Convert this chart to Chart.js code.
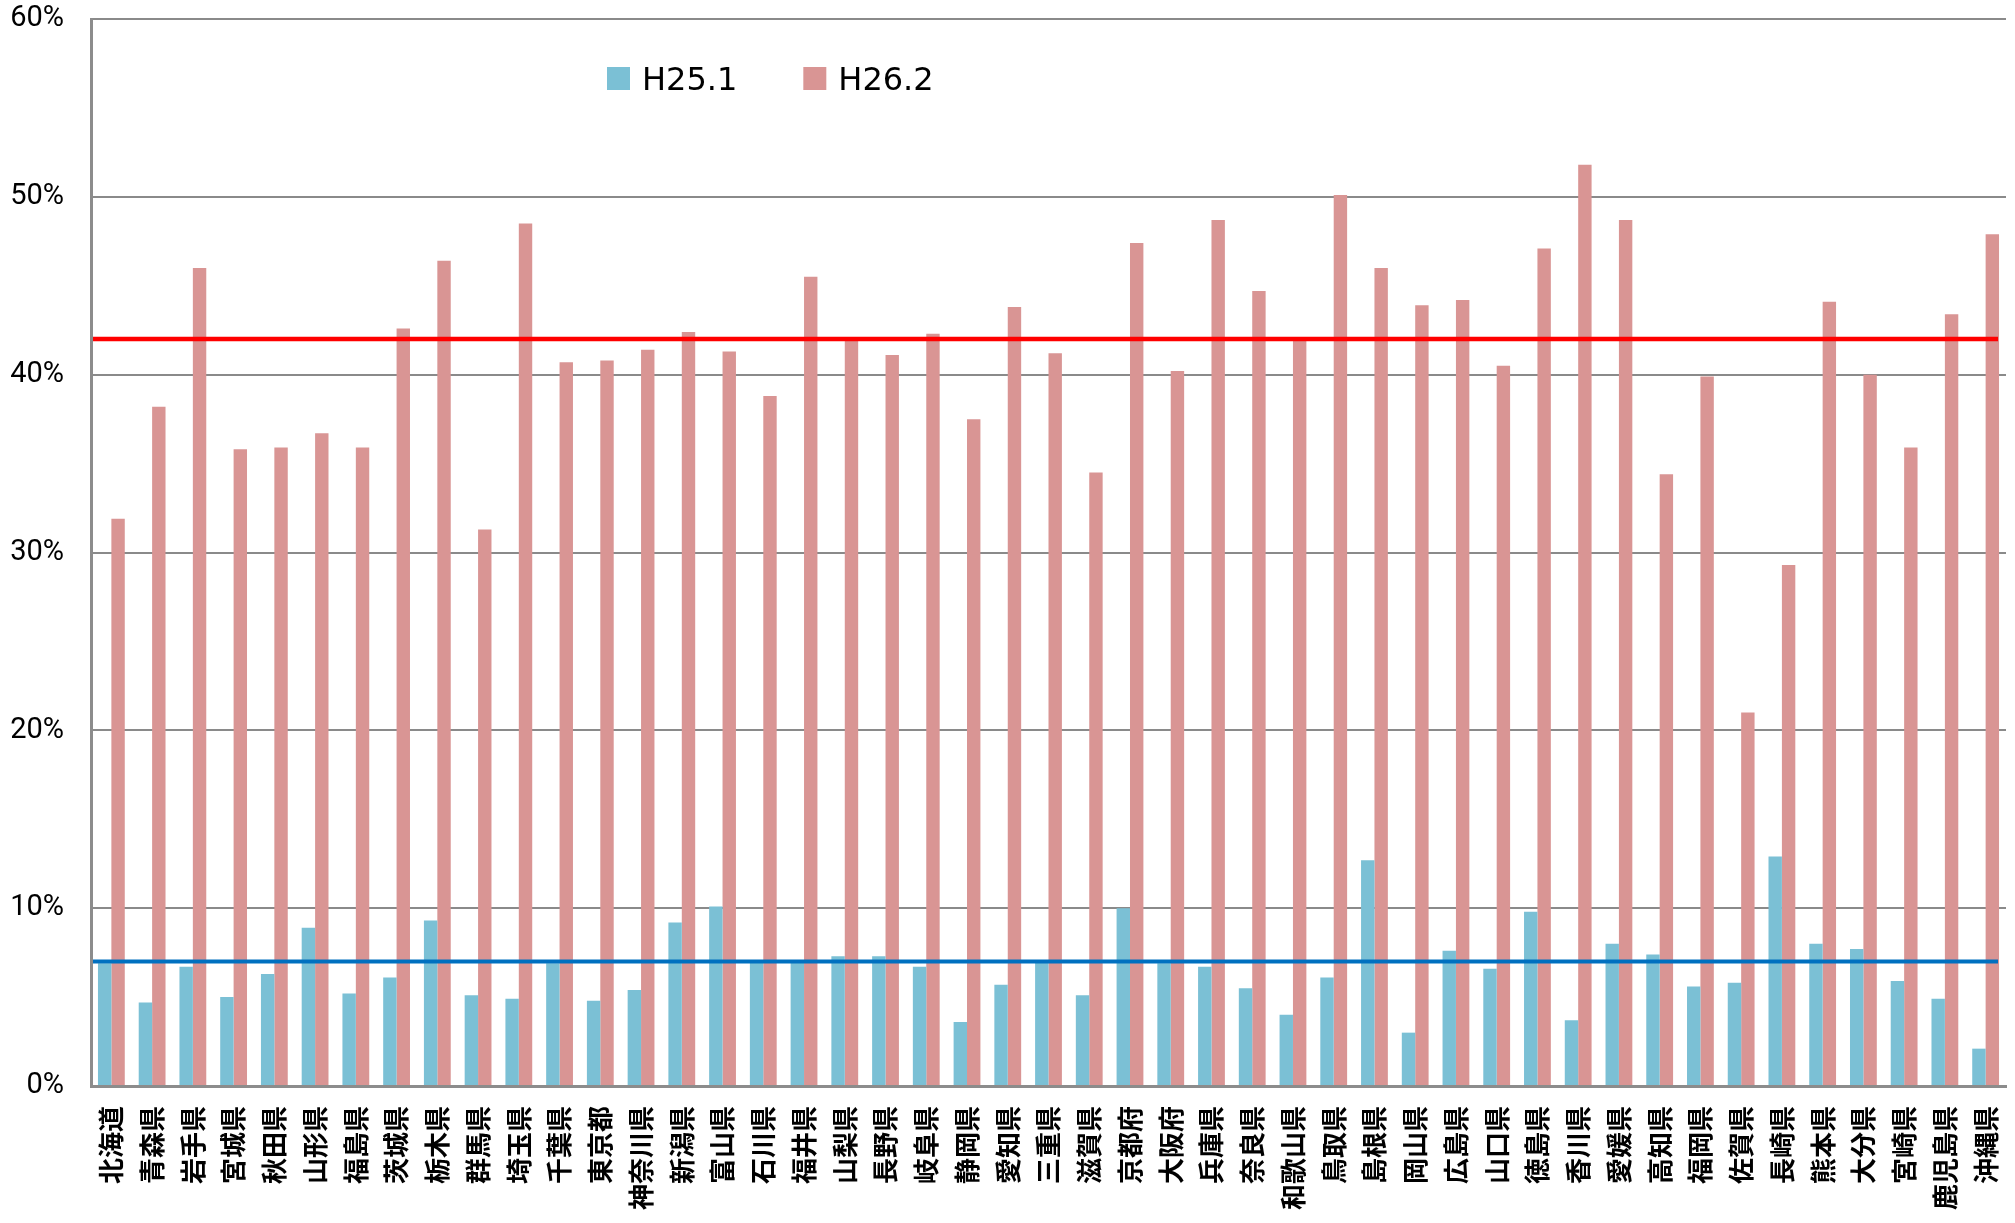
<!DOCTYPE html>
<html>
<head>
<meta charset="utf-8">
<script src="https://cdn.jsdelivr.net/npm/chart.js@4.4.1/dist/chart.umd.min.js"></script>
<style>
  html, body { margin: 0; padding: 0; background: #ffffff; }
  #wrap { position: relative; width: 2015px; height: 1223px; }
  canvas { display: block; }
</style>
</head>
<body>
<div id="wrap"><canvas id="c" width="2015" height="1223"></canvas></div>
<script>
const categories = ["北海道","青森県","岩手県","宮城県","秋田県","山形県","福島県","茨城県","栃木県","群馬県","埼玉県","千葉県","東京都","神奈川県","新潟県","富山県","石川県","福井県","山梨県","長野県","岐阜県","静岡県","愛知県","三重県","滋賀県","京都府","大阪府","兵庫県","奈良県","和歌山県","鳥取県","島根県","岡山県","広島県","山口県","徳島県","香川県","愛媛県","高知県","福岡県","佐賀県","長崎県","熊本県","大分県","宮崎県","鹿児島県","沖縄県"];

const seriesNames = ["H25.1", "H26.2"];

const valuesH25 = [6.9,4.7,6.7,5.0,6.3,8.9,5.2,6.1,9.3,5.1,4.9,6.9,4.8,5.4,9.2,10.1,7.0,7.0,7.3,7.3,6.7,3.6,5.7,7.0,5.1,10.0,6.9,6.7,5.5,4.0,6.1,12.7,3.0,7.6,6.6,9.8,3.7,8.0,7.4,5.6,5.8,12.9,8.0,7.7,5.9,4.9,2.1];

const valuesH26 = [31.9,38.2,46.0,35.8,35.9,36.7,35.9,42.6,46.4,31.3,48.5,40.7,40.8,41.4,42.4,41.3,38.8,45.5,41.9,41.1,42.3,37.5,43.8,41.2,34.5,47.4,40.2,48.7,44.7,41.9,50.1,46.0,43.9,44.2,40.5,47.1,51.8,48.7,34.4,39.9,21.0,29.3,44.1,40.0,35.9,43.4,47.9];

const yTicks = [0, 10, 20, 30, 40, 50, 60];
const refLineH26 = 42;  // red reference line
const refLineH25 = 7;   // blue reference line

const colorH25 = "#7BC0D5";
const colorH26 = "#D99594";

const refLinesPlugin = {
  id: "refLines",
  afterDatasetsDraw(chart) {
    const { ctx, chartArea, scales } = chart;
    const y = scales.y;
    const x0 = chartArea.left + 2;
    const x1 = chartArea.right - 8;
    ctx.save();
    [[refLineH26, "#FF0000", 4.5], [refLineH25, "#0070C0", 4]].forEach(([v, col, w]) => {
      const py = y.getPixelForValue(v);
      ctx.beginPath();
      ctx.strokeStyle = col;
      ctx.lineWidth = w;
      ctx.moveTo(x0, py);
      ctx.lineTo(x1, py);
      ctx.stroke();
    });
    ctx.restore();
  }
};

const innerLegendPlugin = {
  id: "innerLegend",
  afterDraw(chart) {
    const { ctx } = chart;
    ctx.save();
    ctx.font = "32px 'DejaVu Sans'";
    ctx.textBaseline = "alphabetic";
    ctx.textAlign = "left";
    const items = chart.data.datasets.map(d => ({ label: d.label, color: d.backgroundColor }));
    let x = 607;
    const top = 67, box = 23, baseline = 90;
    items.forEach(it => {
      ctx.fillStyle = it.color;
      ctx.fillRect(x, top, box, box);
      ctx.fillStyle = "#000000";
      ctx.fillText(it.label, x + box + 12, baseline);
      x += box + 12 + ctx.measureText(it.label).width + 66;
    });
    ctx.restore();
  }
};

new Chart(document.getElementById("c"), {
  type: "bar",
  data: {
    labels: categories,
    datasets: [
      { label: seriesNames[0], data: valuesH25, backgroundColor: colorH25, borderWidth: 0 },
      { label: seriesNames[1], data: valuesH26, backgroundColor: colorH26, borderWidth: 0 }
    ]
  },
  options: {
    responsive: false,
    animation: false,
    devicePixelRatio: 1,
    layout: { padding: { left: 0, right: 9, top: 19, bottom: 0 } },
    datasets: { bar: { categoryPercentage: 0.658, barPercentage: 1.0 } },
    plugins: {
      legend: { display: false },
      tooltip: { enabled: false }
    },
    scales: {
      x: {
        grid: { display: false, drawTicks: true, tickLength: 20, tickColor: "rgba(0,0,0,0)" },
        border: { display: true, color: "#8C8C8C", width: 3 },
        ticks: {
          autoSkip: false,
          minRotation: 90,
          maxRotation: 90,
          padding: 0,
          color: "#000000",
          font: { family: "'Noto Sans CJK JP'", size: 26, weight: "bold" }
        },
        afterFit(scale) {
          scale.height = 1223 - 1086;
          scale.paddingRight = 0;
          scale.paddingLeft = 0;
        }
      },
      y: {
        min: 0,
        max: 60,
        afterBuildTicks(scale) { scale.ticks = yTicks.map(v => ({ value: v })); },
        grid: { color: "#8A8A8A", lineWidth: 2, drawTicks: true, tickLength: 27, tickColor: "rgba(0,0,0,0)" },
        border: { display: true, color: "#8C8C8C", width: 3 },
        ticks: {
          padding: 0,
          color: "#000000",
          font: { family: "Roboto", size: 29 },
          callback: v => v + "%"
        },
        afterFit(scale) { scale.width = 91; }
      }
    }
  },
  plugins: [refLinesPlugin, innerLegendPlugin]
});
</script>
</body>
</html>
